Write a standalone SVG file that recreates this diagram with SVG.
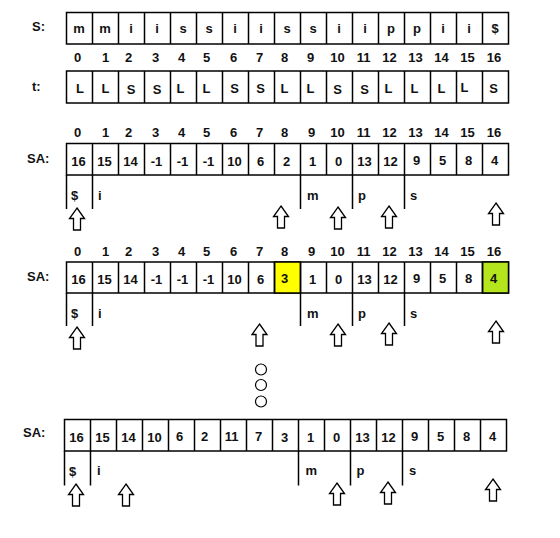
<svg xmlns="http://www.w3.org/2000/svg" xmlns:xlink="http://www.w3.org/1999/xlink" width="560" height="538" viewBox="0 0 560 538">
<style>
text{font-family:"Liberation Sans",Arial,sans-serif;font-weight:bold;font-size:13px;fill:#111;}
.c{text-anchor:middle;}
.cell{fill:#fff;stroke:#000;stroke-width:1.5;}
.ln{stroke:#000;stroke-width:1.5;fill:none;}
.arr{fill:#fff;stroke:#000;stroke-width:1.3;stroke-linejoin:miter;}
.dot{fill:#fff;stroke:#000;stroke-width:1.2;}
</style>
<defs>
<path id="up" class="arr" d="M0,0 L7.5,10.5 L3.5,10.5 L3.5,22 L-3.5,22 L-3.5,10.5 L-7.5,10.5 Z"/>
</defs>
<rect width="560" height="538" fill="#fff"/>

<g id="rowS">
<text x="32" y="31">S:</text>
<g transform="translate(66.5,12.5)">
<rect class="cell" x="0" y="0" width="442" height="31.5"/>
<path class="ln" d="M26,0v31.5M52,0v31.5M78,0v31.5M104,0v31.5M130,0v31.5M156,0v31.5M182,0v31.5M208,0v31.5M234,0v31.5M260,0v31.5M286,0v31.5M312,0v31.5M338,0v31.5M364,0v31.5M390,0v31.5M416,0v31.5"/>
<g class="c">
<text x="12.5" y="20.5">m</text><text x="38.5" y="20.5">m</text><text x="64.5" y="20.5">i</text><text x="90.5" y="20.5">i</text><text x="116.5" y="20.5">s</text><text x="142.5" y="20.5">s</text><text x="168.5" y="20.5">i</text><text x="194.5" y="20.5">i</text><text x="220.5" y="20.5">s</text><text x="246.5" y="20.5">s</text><text x="272.5" y="20.5">i</text><text x="298.5" y="20.5">i</text><text x="324.5" y="20.5">p</text><text x="350.5" y="20.5">p</text><text x="376.5" y="20.5">i</text><text x="402.5" y="20.5">i</text><text x="428.5" y="20.5">$</text>
</g>
</g>
</g>

<g id="indexS" class="c">
<text x="77.5" y="62">0</text><text x="105.5" y="62">1</text><text x="128.5" y="62">2</text><text x="155.5" y="62">3</text><text x="181.5" y="62">4</text><text x="206.5" y="62">5</text><text x="233.5" y="62">6</text><text x="259.5" y="62">7</text><text x="284.5" y="62">8</text><text x="310.5" y="62">9</text><text x="337.5" y="62">10</text><text x="363.5" y="62">11</text><text x="389.5" y="62">12</text><text x="415.5" y="62">13</text><text x="441.5" y="62">14</text><text x="467.5" y="62">15</text><text x="494" y="62">16</text>
</g>

<g id="rowT">
<text x="32" y="91">t:</text>
<g transform="translate(66.5,71)">
<rect class="cell" x="0" y="0" width="442" height="32"/>
<path class="ln" d="M26,0v32M52,0v32M78,0v32M104,0v32M130,0v32M156,0v32M182,0v32M208,0v32M234,0v32M260,0v32M286,0v32M312,0v32M338,0v32M364,0v32M390,0v32M416,0v32"/>
<g class="c">
<text x="13.5" y="22">L</text><text x="39" y="22">L</text><text x="64.5" y="22.5">S</text><text x="90.5" y="22.5">S</text><text x="114" y="21.5">L</text><text x="140" y="21.5">L</text><text x="168" y="22">S</text><text x="194" y="22">S</text><text x="218" y="21.5">L</text><text x="244" y="22">L</text><text x="271" y="22.5">S</text><text x="298" y="22.5">S</text><text x="322" y="22">L</text><text x="348" y="22">L</text><text x="375" y="22">L</text><text x="398" y="21">L</text><text x="427" y="21.5">S</text>
</g>
</g>
</g>

<g id="SA1">
<text x="27" y="163">SA:</text>
<g class="c">
<text x="77.5" y="137">0</text><text x="105.5" y="137">1</text><text x="128.5" y="137">2</text><text x="155.5" y="137">3</text><text x="181.5" y="137">4</text><text x="206.5" y="137">5</text><text x="233.5" y="137">6</text><text x="259.5" y="137">7</text><text x="284.5" y="137">8</text><text x="311.5" y="137">9</text><text x="337.5" y="137">10</text><text x="363.5" y="137">11</text><text x="389.5" y="137">12</text><text x="415.5" y="137">13</text><text x="441.5" y="137">14</text><text x="467.5" y="137">15</text><text x="494" y="137">16</text>
</g>
<g transform="translate(66.5,143.5)">
<rect class="cell" x="0" y="0" width="442" height="31.5"/>
<path class="ln" d="M26,0v31.5M52,0v31.5M78,0v31.5M104,0v31.5M130,0v31.5M156,0v31.5M182,0v31.5M208,0v31.5M234,0v31.5M260,0v31.5M286,0v31.5M312,0v31.5M338,0v31.5M364,0v31.5M390,0v31.5M416,0v31.5"/>
<path class="ln" d="M0,31.5v34M26,31.5v34M234,31.5v34M286,31.5v34M338,31.5v34"/>
<g class="c">
<text x="12" y="22.5">16</text><text x="38" y="22.5">15</text><text x="64" y="22.5">14</text><text x="90" y="22.5">-1</text><text x="116" y="22.5">-1</text><text x="142" y="22.5">-1</text><text x="168" y="22.5">10</text><text x="194" y="22.5">6</text><text x="220" y="22.5">2</text><text x="246" y="22.5">1</text><text x="272" y="22.5">0</text><text x="298" y="22.5">13</text><text x="324" y="22.5">12</text><text x="350" y="21.5">9</text><text x="376" y="21.5">5</text><text x="402" y="21.5">8</text><text x="428" y="21.5">4</text>
</g>
</g>
<text x="71" y="199.5">$</text><text x="98" y="199.5">i</text><text x="307" y="200">m</text><text x="358" y="200">p</text><text x="410" y="199.5">s</text>
</g>

<g id="SA2">
<text x="27" y="281">SA:</text>
<g class="c">
<text x="77.5" y="256">0</text><text x="105.5" y="256">1</text><text x="128.5" y="256">2</text><text x="155.5" y="256">3</text><text x="181.5" y="256">4</text><text x="206.5" y="256">5</text><text x="233.5" y="256">6</text><text x="259.5" y="256">7</text><text x="284.5" y="256">8</text><text x="311.5" y="256">9</text><text x="337.5" y="256">10</text><text x="363.5" y="256">11</text><text x="389.5" y="256">12</text><text x="415.5" y="256">13</text><text x="441.5" y="256">14</text><text x="467.5" y="256">15</text><text x="494" y="256">16</text>
</g>
<g transform="translate(66.5,262)">
<rect class="cell" x="0" y="0" width="442" height="31"/>
<rect x="208" y="0" width="26" height="31" fill="#ffff00" stroke="#000" stroke-width="1.5"/>
<rect x="416" y="0" width="26" height="31" fill="#b5e61d" stroke="#000" stroke-width="1.5"/>
<path class="ln" d="M26,0v31M52,0v31M78,0v31M104,0v31M130,0v31M156,0v31M182,0v31M208,0v31M234,0v31M260,0v31M286,0v31M312,0v31M338,0v31M364,0v31M390,0v31M416,0v31"/>
<path class="ln" d="M0,31v33M26,31v33M234,31v33M286,31v33M338,31v33"/>
<g class="c">
<text x="12" y="22">16</text><text x="38" y="22">15</text><text x="64" y="22">14</text><text x="90" y="22">-1</text><text x="116" y="22">-1</text><text x="142" y="22">-1</text><text x="168" y="22">10</text><text x="194" y="22">6</text><text x="218" y="21">3</text><text x="246" y="22">1</text><text x="272" y="22">0</text><text x="298" y="22">13</text><text x="324" y="22">12</text><text x="350" y="21">9</text><text x="376" y="21">5</text><text x="402" y="21">8</text><text x="427" y="21">4</text>
</g>
</g>
<text x="71" y="317.5">$</text><text x="98" y="317.5">i</text><text x="307" y="317.5">m</text><text x="358" y="317.5">p</text><text x="410" y="317.5">s</text>
</g>

<g id="ellipsis">
<circle class="dot" cx="261" cy="369.5" r="5.5"/>
<circle class="dot" cx="261" cy="385" r="5.5"/>
<circle class="dot" cx="261" cy="401.5" r="5.5"/>
</g>

<g id="SA3">
<text x="23" y="437">SA:</text>
<g transform="translate(64.5,419.5)">
<rect class="cell" x="0" y="0" width="442" height="31.5"/>
<path class="ln" d="M26,0v31.5M52,0v31.5M78,0v31.5M104,0v31.5M130,0v31.5M156,0v31.5M182,0v31.5M208,0v31.5M234,0v31.5M260,0v31.5M286,0v31.5M312,0v31.5M338,0v31.5M364,0v31.5M390,0v31.5M416,0v31.5"/>
<path class="ln" d="M0,31.5v34.5M26,31.5v34.5M234,31.5v34.5M286,31.5v34.5M338,31.5v34.5"/>
<g class="c">
<text x="12" y="22.5">16</text><text x="38" y="22.5">15</text><text x="64" y="22.5">14</text><text x="90" y="22.5">10</text><text x="115" y="21.5">6</text><text x="140" y="21.5">2</text><text x="167" y="21.5">11</text><text x="194" y="21.5">7</text><text x="220" y="22">3</text><text x="246" y="22">1</text><text x="272" y="22">0</text><text x="298" y="22.5">13</text><text x="324" y="22.5">12</text><text x="350" y="21.5">9</text><text x="376" y="21.5">5</text><text x="402" y="21.5">8</text><text x="428" y="21.5">4</text>
</g>
</g>
<text x="69" y="475.5">$</text><text x="97" y="475">i</text><text x="305.5" y="475">m</text><text x="356.5" y="475">p</text><text x="409" y="475">s</text>
</g>

<g id="connectors">
<use xlink:href="#up" x="77" y="208"/>
<use xlink:href="#up" x="281" y="206"/>
<use xlink:href="#up" x="338" y="207"/>
<use xlink:href="#up" x="389" y="206"/>
<use xlink:href="#up" x="496" y="203"/>
<use xlink:href="#up" x="77" y="327"/>
<use xlink:href="#up" x="259.5" y="324"/>
<use xlink:href="#up" x="338" y="324"/>
<use xlink:href="#up" x="389" y="323"/>
<use xlink:href="#up" x="496" y="321"/>
<use xlink:href="#up" x="76" y="484"/>
<use xlink:href="#up" x="126" y="484"/>
<use xlink:href="#up" x="337" y="483"/>
<use xlink:href="#up" x="388" y="482"/>
<use xlink:href="#up" x="493" y="479"/>
</g>
</svg>
